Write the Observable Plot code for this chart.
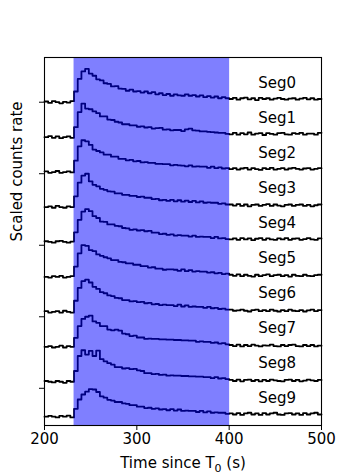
<!DOCTYPE html>
<html><head><meta charset="utf-8">
<script src="https://cdn.jsdelivr.net/npm/d3@7"></script>
<script src="https://cdn.jsdelivr.net/npm/@observablehq/plot@0.6"></script>
<style>body{margin:0;background:#fff}</style>
</head><body><div id="chart"></div>
<script>
// Segment names
const segNames = ["Seg0","Seg1","Seg2","Seg3","Seg4","Seg5","Seg6","Seg7","Seg8","Seg9"];
// Binned time grid (s): bins of 4 s starting at 200
const binStart = 200;
const binWidth = 4;
const timeEnd = 500;
// Scaled count rates (x100) per 4-s bin, 75 bins each, relative to each segment's baseline
const seg0 = [2,-2,3,0,-3,1,-1,3,
  30,65,86,93,80,74,64,61,53,51, 44,45,38,37,32,35,30,31,27,30, 25,28,22,25,20,23,18,22,19,18, 22,18,20,16,19,14,17,13,16,11, 14,11,
  9,12,7,11,13,8,11,6,12,9,11,7,10,12,9,7,10,11,7,10,12,8,11,7,9];
const seg1 = [0,3,-2,2,-3,0,2,-2,
  28,70,94,80,78,72,67,58,58,49, 48,43,41,36,36,33,33,29,30,27, 28,24,25,26,21,22,19,20,20,17, 22,24,19,18,16,16,15,14,13,12, 12,9,
  8,12,7,11,8,13,7,10,11,6,11,9,7,11,12,8,7,11,9,12,7,10,10,7,12];
const seg2 = [2,-2,0,3,-2,0,2,-1,
  32,72,89,86,76,63,59,55,49,49, 43,43,37,37,33,34,30,31,27,28, 26,26,23,23,22,22,19,20,19,18, 16,19,15,16,15,15,12,15,11,13, 10,11,
  8,11,7,10,12,7,11,8,6,11,8,12,7,9,11,7,10,12,9,7,10,11,7,9,11];
const seg3 = [0,2,-2,3,0,-2,2,0,
  30,68,88,93,72,62,58,51,48,44, 43,38,38,34,34,31,31,28,29,26, 26,22,23,19,20,17,20,16,19,15, 18,14,17,13,16,12,13,12,12,9, 10,7,
  7,4,8,3,7,2,6,7,3,6,8,3,7,4,2,6,7,3,6,7,3,6,2,5,7];
const seg4 = [2,0,-2,2,3,0,-2,1,
  27,62,85,92,86,72,67,57,56,49, 49,45,44,39,38,34,35,32,33,30, 31,26,26,22,23,20,21,18,19,18, 18,15,18,14,15,14,14,11,14,10, 11,8,
  7,10,6,11,7,10,5,9,11,6,10,7,6,10,7,11,6,9,10,6,8,11,7,6,10];
const seg5 = [0,-2,2,0,3,-2,0,2,
  29,66,89,87,75,72,63,59,55,52, 47,47,42,41,38,38,34,34,30,30, 26,27,23,23,20,21,21,20,17,21, 16,19,15,16,15,15,12,13,10,11, 8,9,
  6,3,7,2,6,3,1,6,2,5,7,2,5,6,2,5,1,6,3,2,6,3,2,5,6];
const seg6 = [2,-2,0,2,-2,3,0,-2,
  31,67,86,90,82,70,64,55,52,46, 44,39,38,33,33,29,30,27,28,24, 25,21,22,19,20,19,19,16,20,15, 18,14,15,14,14,11,14,10,11,8, 9,6,
  6,3,4,6,3,1,5,6,2,5,2,6,3,1,5,2,6,3,2,5,1,4,6,2,5];
const seg7 = [0,2,-2,0,3,-2,2,0,
  25,58,78,84,87,71,67,58,58,48, 46,48,45,37,35,30,31,26,26,22, 23,22,22,21,21,20,20,19,19,18, 18,17,17,14,15,14,14,11,12,9, 10,7,
  5,2,6,1,5,2,6,3,1,4,3,6,2,1,5,2,5,6,2,1,5,2,5,1,3];
const seg8 = [2,0,-2,2,0,-3,2,0,
  30,72,88,76,86,72,87,63,57,52, 48,41,41,37,38,35,36,32,30,24, 24,21,22,19,20,17,18,17,17,16, 16,15,15,14,14,13,13,10,13,9, 10,7,
  5,2,6,1,5,6,2,5,1,5,2,6,4,2,1,5,6,2,5,1,3,6,4,2,5];
const seg9 = [0,2,0,-2,2,0,3,-2,
  22,48,62,70,77,76,69,57,53,47, 45,41,41,37,36,32,32,28,28,24, 25,22,23,20,21,18,21,17,20,16, 17,16,16,13,16,12,15,11,12,11, 11,8,
  9,6,10,5,9,11,6,9,5,10,6,9,11,6,5,9,10,6,9,5,10,6,9,11,6];
const allSegs = [seg0,seg1,seg2,seg3,seg4,seg5,seg6,seg7,seg8,seg9];
// Vertical offset between stacked segments (units)
const offsetStep = 0.977;
// Shaded burst interval (s)
const spanStart = 232, spanEnd = 400.5;
// Axis ticks
const xTicks = [200,300,400,500];
const yTicks = [0,-2,-4,-6,-8];
const labelTime = 452;
const labelLift = 0.53;
const xLabel = "Time since T₀ (s)";
const yLabel = "Scaled counts rate";

const rows = [];
allSegs.forEach((vals, i) => {
  vals.forEach((v, j) => rows.push({seg: i, t: binStart + j*binWidth, v: v/100 - offsetStep*i}));
  rows.push({seg: i, t: timeEnd, v: vals[vals.length-1]/100 - offsetStep*i});
});

const chart = Plot.plot({
  width: 357, height: 476,
  marginLeft: 44, marginRight: 36, marginTop: 57, marginBottom: 51,
  x: {domain: [200, 500]},
  y: {domain: [-9.04, 1.25]},
  style: {fontFamily: "DejaVu Sans", fontSize: "15px", color: "black", background: "white"},
  marks: [
    Plot.line(rows, {x: "t", y: "v", z: "seg", curve: "step-after", stroke: "black", strokeWidth: 1.8}),
    Plot.rect([{start: spanStart, end: spanEnd}], {x1: "start", x2: "end", fill: "#0000ff", fillOpacity: 0.5}),
    Plot.text(segNames, {x: () => labelTime, y: (d, i) => -offsetStep*i + labelLift, text: d => d, fontSize: 15, fill: "black"}),
    Plot.frame({stroke: "black", strokeWidth: 1.1}),
    Plot.axisX({ticks: xTicks, tickSize: 5, tickPadding: 3, label: null, fontSize: 15}),
    Plot.axisY({ticks: yTicks, tickSize: 5, tickFormat: () => "", label: null}),
    Plot.text([xLabel], {frameAnchor: "bottom", dy: 38, text: d => d, lineAnchor: "middle", fontSize: 15, className: "xlab"}),
    Plot.text([yLabel], {frameAnchor: "left", dx: -27, rotate: -90, text: d => d, lineAnchor: "middle", fontSize: 15})
  ]
});
document.getElementById("chart").append(chart);
// Render the T0 subscript as a real lowered, smaller "0"
d3.select(chart).selectAll("text").filter(function(){ return this.textContent === xLabel; }).each(function(){
  const t = d3.select(this);
  t.text(null);
  t.append("tspan").text("Time since T");
  t.append("tspan").attr("font-size", "11px").attr("dy", "4").text("0");
  t.append("tspan").attr("dy", "-4").text(" (s)");
});
</script></body></html>
